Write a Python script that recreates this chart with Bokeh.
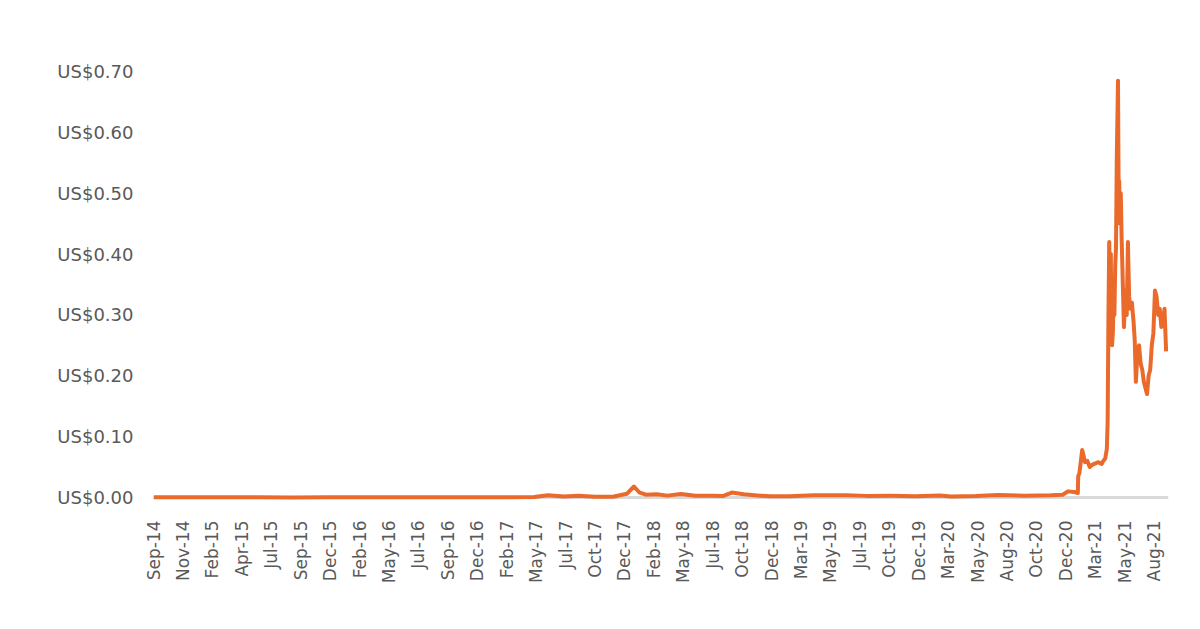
import math

from bokeh.plotting import figure
from bokeh.models import FixedTicker, PrintfTickFormatter, Span, Range1d
from bokeh.embed import file_html
from bokeh.resources import INLINE
import pandas as pd

# price series (daily closes, thinned out)
dates = [
    "2014-09-17", "2014-12-01", "2015-03-01", "2015-06-01", "2015-09-01",
    "2015-12-01", "2016-03-01", "2016-06-01", "2016-09-01", "2016-12-01",
    "2017-03-01", "2017-05-01", "2017-06-05", "2017-07-15", "2017-08-20",
    "2017-10-01", "2017-11-15", "2017-12-20", "2018-01-07", "2018-01-20",
    "2018-02-06", "2018-03-05", "2018-04-01", "2018-05-05", "2018-06-10",
    "2018-07-25", "2018-08-20", "2018-09-10", "2018-10-10", "2018-11-20",
    "2018-12-15", "2019-02-01", "2019-04-05", "2019-06-25", "2019-08-15",
    "2019-10-15", "2019-12-15", "2020-02-15", "2020-03-15", "2020-05-15",
    "2020-07-10", "2020-09-15", "2020-11-20", "2020-12-20", "2021-01-02",
    "2021-01-18", "2021-01-27", "2021-01-28", "2021-01-31", "2021-02-07",
    "2021-02-10", "2021-02-14", "2021-02-20", "2021-02-26", "2021-03-05",
    "2021-03-12", "2021-03-20", "2021-03-28", "2021-04-01", "2021-04-06",
    "2021-04-10", "2021-04-12", "2021-04-14", "2021-04-16", "2021-04-18",
    "2021-04-20", "2021-04-21", "2021-04-23", "2021-04-25", "2021-04-27",
    "2021-04-29", "2021-05-01", "2021-05-03", "2021-05-05", "2021-05-07",
    "2021-05-08", "2021-05-09", "2021-05-10", "2021-05-11", "2021-05-13",
    "2021-05-15", "2021-05-17", "2021-05-19", "2021-05-21", "2021-05-23",
    "2021-05-26", "2021-05-30", "2021-06-02", "2021-06-05", "2021-06-08",
    "2021-06-12", "2021-06-16", "2021-06-19", "2021-06-22", "2021-06-26",
    "2021-06-30", "2021-07-04", "2021-07-08", "2021-07-12", "2021-07-16",
    "2021-07-20", "2021-07-24", "2021-07-28", "2021-08-01", "2021-08-05",
    "2021-08-09", "2021-08-13", "2021-08-17", "2021-08-21", "2021-08-25",
    "2021-08-29", "2021-09-02", "2021-09-06",
]
prices = [
    0.00041, 0.00022, 0.00018, 0.00014, 0.00013,
    0.00015, 0.00022, 0.00030, 0.00022, 0.00023,
    0.00030, 0.00085, 0.0035, 0.0017, 0.0030,
    0.0011, 0.0013, 0.0060, 0.0180, 0.0085,
    0.0045, 0.0052, 0.0030, 0.0058, 0.0028,
    0.0030, 0.0025, 0.0080, 0.0052, 0.0030,
    0.0020, 0.0019, 0.0035, 0.0038, 0.0026,
    0.0027, 0.0020, 0.0033, 0.0015, 0.0024,
    0.0042, 0.0027, 0.0035, 0.0045, 0.0100,
    0.0090, 0.0074, 0.035, 0.040, 0.078,
    0.070, 0.058, 0.060, 0.050, 0.054,
    0.056, 0.058, 0.055, 0.060, 0.064,
    0.080, 0.125, 0.30, 0.42, 0.33,
    0.40, 0.31, 0.25, 0.27, 0.32,
    0.30, 0.38, 0.41, 0.56, 0.64,
    0.685, 0.57, 0.46, 0.52, 0.45,
    0.50, 0.43, 0.38, 0.33, 0.28,
    0.34, 0.30, 0.42, 0.33, 0.31,
    0.32, 0.29, 0.26, 0.19, 0.24,
    0.25, 0.22, 0.21, 0.19, 0.18,
    0.17, 0.20, 0.21, 0.25, 0.27,
    0.34, 0.33, 0.30, 0.31, 0.28,
    0.29, 0.31, 0.24,
]

# category labels shown every 74 days from the first data point
x_labels = [
    "Sep-14", "Nov-14", "Feb-15", "Apr-15", "Jul-15", "Sep-15", "Dec-15",
    "Feb-16", "May-16", "Jul-16", "Sep-16", "Dec-16", "Feb-17", "May-17",
    "Jul-17", "Oct-17", "Dec-17", "Feb-18", "May-18", "Jul-18", "Oct-18",
    "Dec-18", "Mar-19", "May-19", "Jul-19", "Oct-19", "Dec-19", "Mar-20",
    "May-20", "Aug-20", "Oct-20", "Dec-20", "Mar-21", "May-21", "Aug-21",
]
y_ticks = [0.0, 0.1, 0.2, 0.3, 0.4, 0.5, 0.6, 0.7]

x = pd.to_datetime(dates)
tick_dates = pd.date_range(dates[0], periods=len(x_labels), freq="74D")
tick_ms = [float(t.value // 10**6) for t in tick_dates]

TEXT = "#595959"
ORANGE = "#EA6A2B"

p = figure(
    width=1192, height=600,
    x_axis_type="datetime",
    x_range=Range1d(x[0], x[-1] + pd.Timedelta(days=6)),
    y_range=Range1d(-0.005, 0.70),
    output_backend="svg",
    toolbar_location=None,
)
p.min_border = 0
p.min_border_left = 153
p.min_border_right = 24
p.min_border_top = 71
p.min_border_bottom = 100
p.outline_line_color = None
p.grid.visible = False

base = Span(location=0, dimension="width", line_color="#d9d9d9",
            line_width=3, level="underlay")
p.add_layout(base)

p.line(x, prices, line_color=ORANGE, line_width=4, line_join="round")

p.yaxis.ticker = FixedTicker(ticks=y_ticks)
p.yaxis.formatter = PrintfTickFormatter(format="US$%.2f")
p.yaxis.axis_line_color = None
p.yaxis.major_tick_line_color = None
p.yaxis.minor_tick_line_color = None
p.yaxis.major_label_standoff = 14
p.yaxis.major_label_text_font = "DejaVu Sans"
p.yaxis.major_label_text_font_size = "18px"
p.yaxis.major_label_text_color = TEXT

p.xaxis.ticker = FixedTicker(ticks=tick_ms)
p.xaxis.major_label_overrides = dict(zip(tick_ms, x_labels))
p.xaxis.major_label_orientation = math.pi / 2
p.xaxis.axis_line_color = None
p.xaxis.major_tick_line_color = None
p.xaxis.minor_tick_line_color = None
p.xaxis.major_label_standoff = 14
p.xaxis.major_label_text_font = "DejaVu Sans"
p.xaxis.major_label_text_font_size = "17px"
p.xaxis.major_label_text_color = TEXT

open("out.html", "w").write(file_html(p, INLINE))
